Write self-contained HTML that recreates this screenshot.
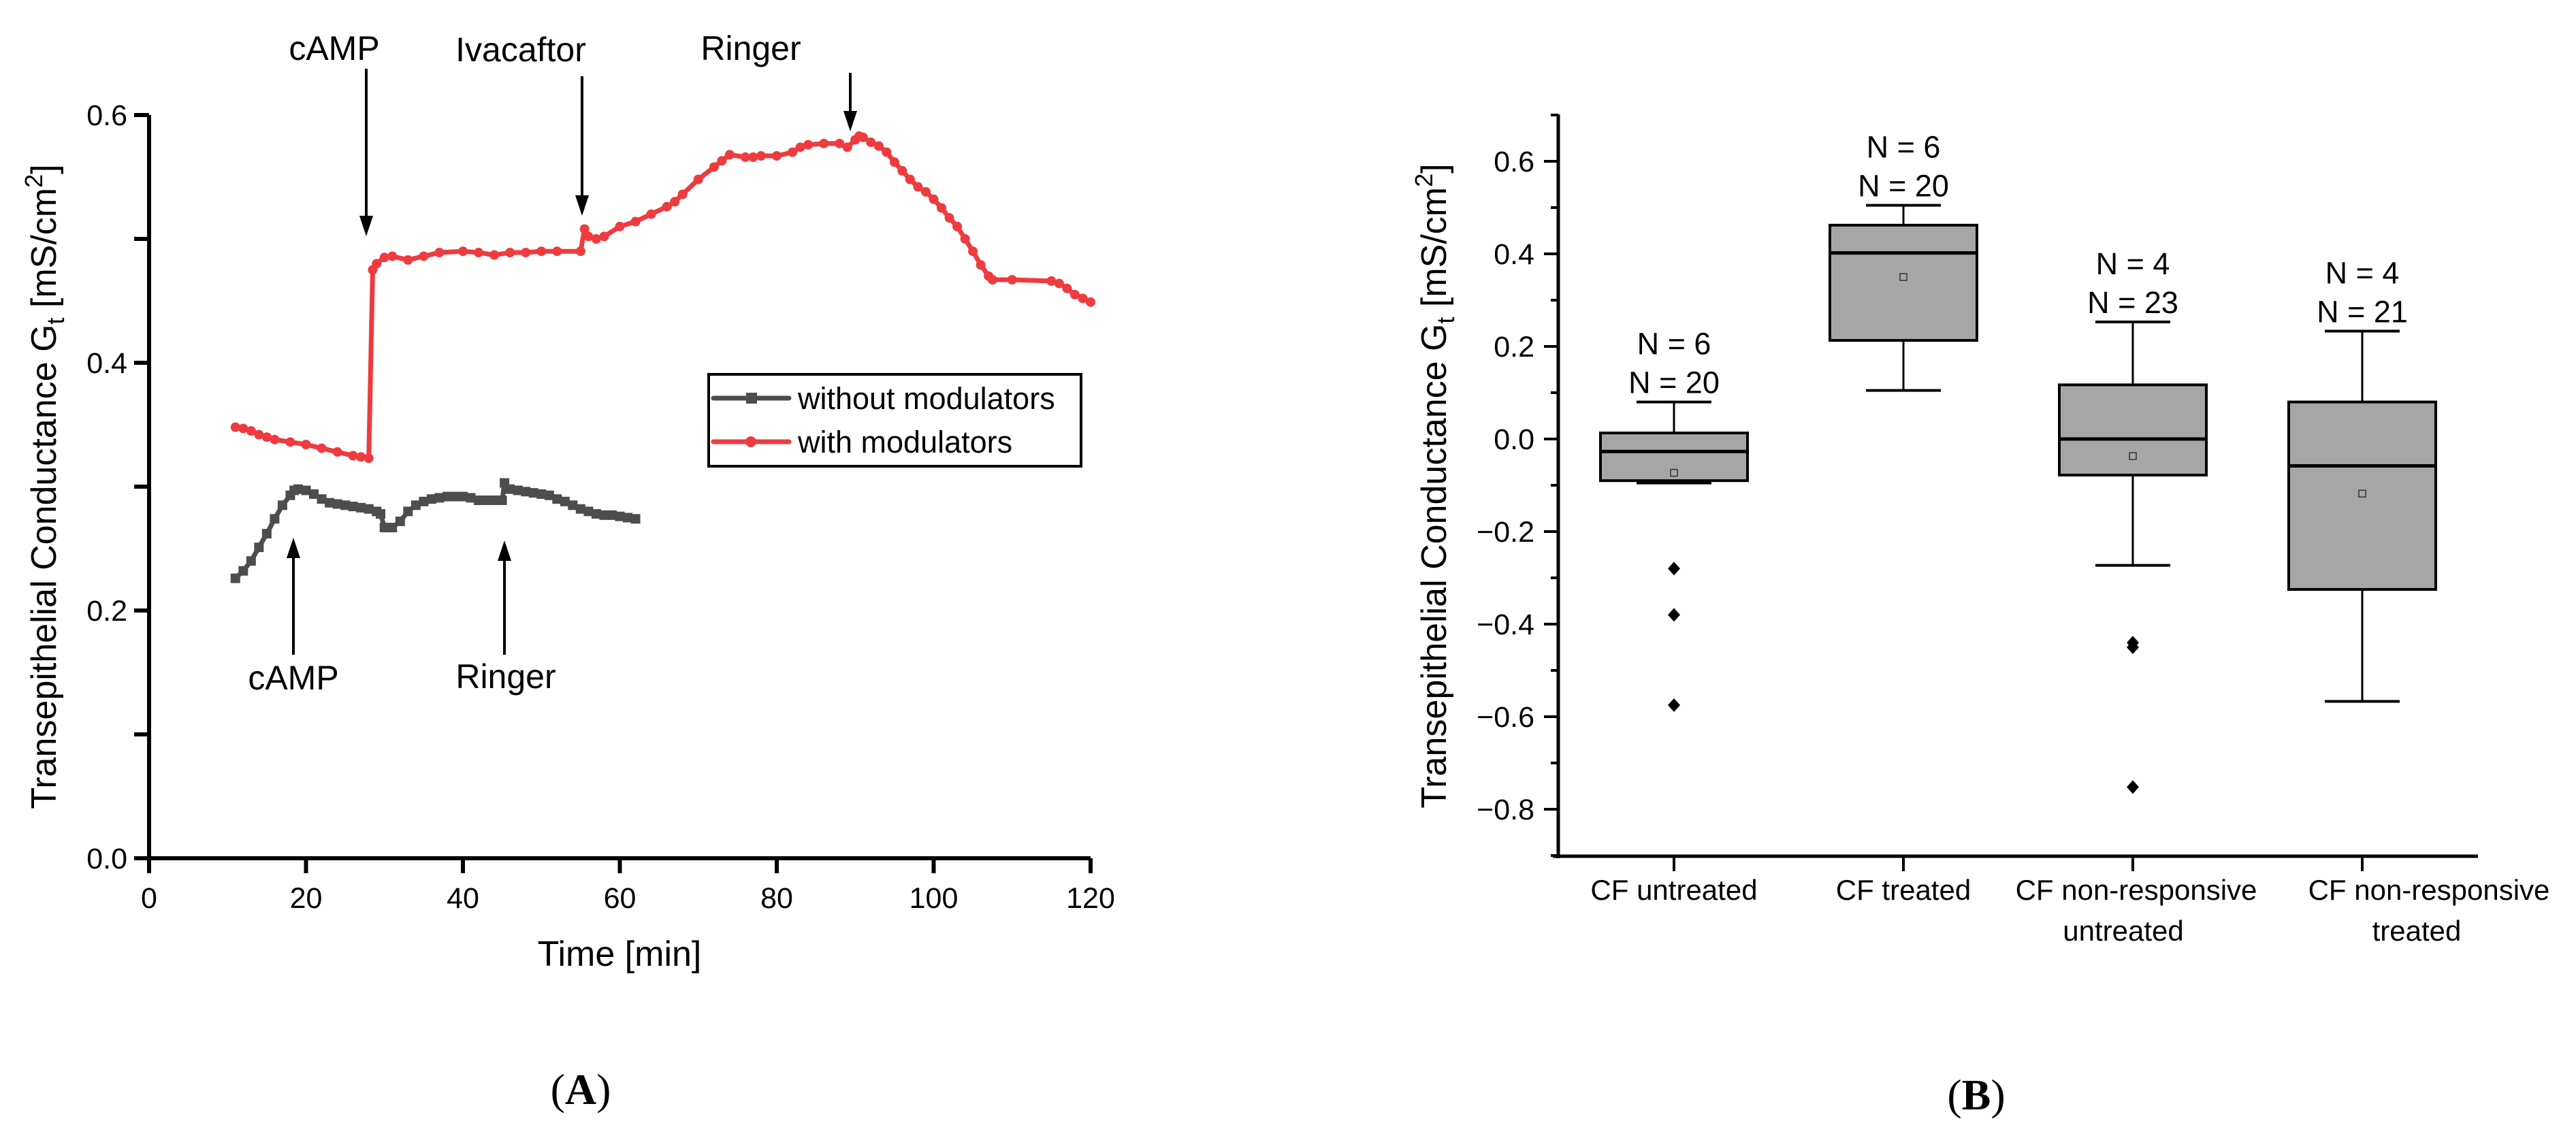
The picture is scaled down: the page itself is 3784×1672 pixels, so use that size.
<!DOCTYPE html>
<html><head><meta charset="utf-8"><style>
html,body{margin:0;padding:0;background:#fff;}
svg{display:block;font-family:"Liberation Sans",Arial,sans-serif;}
</style></head><body>
<svg id="fig" width="3784" height="1672" viewBox="0 0 3784 1672" xmlns="http://www.w3.org/2000/svg">
<g id="A"></g>
<g id="B"></g>
</svg>
<script>
// ---- Panel A data ----
const grayX = [11,12,13,14,15,16,17,18,18.5,19,20,21,22,23,24,25,26,27,28,29,29.5,30,31,32,33,34,35,36,37,38,39,40,41,42,43,44,45,45.3,46,47,48,49,50,51,52,53,54,55,56,57,58,59,60,61,62];
const grayY = [0.226,0.232,0.24,0.251,0.262,0.274,0.285,0.293,0.297,0.298,0.297,0.294,0.29,0.287,0.286,0.285,0.284,0.283,0.282,0.28,0.278,0.267,0.267,0.272,0.28,0.285,0.288,0.29,0.291,0.292,0.292,0.292,0.291,0.289,0.289,0.289,0.289,0.303,0.298,0.297,0.296,0.295,0.294,0.293,0.29,0.288,0.285,0.282,0.28,0.278,0.277,0.277,0.276,0.275,0.274];
const redX = [11,12,13,14,15,16,18,20,22,24,26,27,28,28.5,29,30,31,33,35,37,40,42,44,46,48,50,52,55,55.5,56,57,58,60,62,64,66,67,68,70,72,73,74,76,77,78,80,82,83,84,86,88,89,90,90.5,91,92,93,94,95,96,97,98,99,100,101,102,103,104,105,106,107,107.5,110,115,116,117,118,119,120];
const redY = [0.348,0.347,0.345,0.342,0.34,0.338,0.336,0.334,0.331,0.328,0.325,0.324,0.323,0.475,0.48,0.485,0.486,0.483,0.486,0.489,0.49,0.489,0.487,0.489,0.489,0.49,0.49,0.49,0.508,0.502,0.50,0.502,0.51,0.514,0.52,0.526,0.53,0.536,0.548,0.558,0.563,0.568,0.566,0.566,0.567,0.567,0.57,0.574,0.576,0.577,0.577,0.574,0.58,0.583,0.582,0.578,0.575,0.57,0.562,0.555,0.548,0.542,0.538,0.532,0.525,0.517,0.51,0.5,0.49,0.479,0.47,0.467,0.467,0.466,0.464,0.46,0.455,0.452,0.449];
const xTicksA = [0,20,40,60,80,100,120];
const yTicksA = [0.0,0.2,0.4,0.6];
// ---- Panel B data ----
const cats = [["CF untreated"],["CF treated"],["CF non-responsive","untreated"],["CF non-responsive","treated"]];
const whiskHi = [0.08,0.505,0.253,0.233];
const boxHi = [0.013,0.462,0.117,0.08];
const medians = [-0.027,0.402,0.0,-0.058];
const boxLo = [-0.09,0.213,-0.078,-0.325];
const whiskLo = [-0.095,0.105,-0.273,-0.567];
const means = [-0.073,0.35,-0.037,-0.118];
const outliers = [[-0.28,-0.38,-0.575],[],[-0.44,-0.45,-0.752],[]];
const nTop = ["N = 6","N = 6","N = 4","N = 4"];
const nBot = ["N = 20","N = 20","N = 23","N = 21"];
const yTicksB = [-0.8,-0.6,-0.4,-0.2,0.0,0.2,0.4,0.6];

const NS="http://www.w3.org/2000/svg";
function mk(parent,tag,attrs,text){const e=document.createElementNS(NS,tag);for(const k in attrs)e.setAttribute(k,attrs[k]);if(text!==undefined)e.textContent=text;parent.appendChild(e);return e;}

// ---------- Panel A ----------
const A=document.getElementById('A');
const ax=v=>219+(v/120)*(1602-219);
const ay=v=>1261-(v/0.6)*(1261-169);
let e;
e=mk(A,'line',{x1:ax(0),y1:ay(0),x2:ax(120),y2:ay(0),stroke:'#000','stroke-width':6});

e=mk(A,'line',{x1:ax(0),y1:ay(0)+3,x2:ax(0),y2:ay(0.6),stroke:'#000','stroke-width':6});

xTicksA.forEach(t=>{
  e=mk(A,'line',{x1:ax(t),y1:ay(0),x2:ax(t),y2:ay(0)+22,stroke:'#000','stroke-width':6});
  
  e=mk(A,'text',{x:ax(t),y:ay(0)+73,'font-size':43,'text-anchor':'middle'},String(t));
  
});
[0,0.1,0.2,0.3,0.4,0.5,0.6].forEach(t=>{
  e=mk(A,'line',{x1:ax(0)-22,y1:ay(t),x2:ax(0),y2:ay(t),stroke:'#000','stroke-width':6});
  
});
yTicksA.forEach(t=>{
  e=mk(A,'text',{x:ax(0)-32,y:ay(t)+15,'font-size':43,'text-anchor':'end'},t.toFixed(1));
  
});
e=mk(A,'text',{x:910,y:1419,'font-size':52,'text-anchor':'middle'},'Time [min]');

e=mk(A,'text',{transform:'translate(82,715) rotate(-90)','font-size':52,'text-anchor':'middle'});

e.innerHTML='Transepithelial Conductance G<tspan font-size="36" dy="12">t</tspan><tspan dy="-12"> [mS/cm</tspan><tspan font-size="36" dy="-20">2</tspan><tspan dy="20">]</tspan>';

function series(xs,ys,col,name,sq){
  const pts=xs.map((x,i)=>ax(x)+','+ay(ys[i])).join(' ');
  let l=mk(A,'polyline',{points:pts,fill:'none',stroke:col,'stroke-width':7,'stroke-linejoin':'round'});
  
  xs.forEach((x,i)=>{
    let m;
    if(sq) m=mk(A,'rect',{x:ax(x)-7,y:ay(ys[i])-7,width:14,height:14,fill:col});
    else m=mk(A,'circle',{cx:ax(x),cy:ay(ys[i]),r:7,fill:col});
    
  });
}
series(grayX,grayY,'#4d4d4d','without-modulators',true);
series(redX,redY,'#ee3b3f','with-modulators',false);

// legend
e=mk(A,'rect',{x:1041,y:550,width:547,height:135,fill:'#fff',stroke:'#000','stroke-width':4});

[['#4d4d4d','without modulators',585,true],['#ee3b3f','with modulators',649,false]].forEach(([c,t,y,sq])=>{
  let g=mk(A,'g',{});
  
  mk(g,'line',{x1:1048,y1:y,x2:1159,y2:y,stroke:c,'stroke-width':7,'stroke-linecap':'round'});
  if(sq) mk(g,'rect',{x:1096,y:y-8,width:16,height:16,fill:c}); else mk(g,'circle',{cx:1103,cy:y,r:8,fill:c});
  mk(g,'text',{x:1172,y:y+16,'font-size':45},t);
});

// annotations
function arrow(x,y1,y2,name){
  let g=mk(A,'g',{});
  
  const dir=y2>y1?1:-1;
  mk(g,'line',{x1:x,y1:y1,x2:x,y2:y2-dir*24,stroke:'#000','stroke-width':4});
  mk(g,'polygon',{points:`${x-10},${y2-dir*30} ${x+10},${y2-dir*30} ${x},${y2}`,fill:'#000'});
}
[['cAMP',491,88],['Ivacaftor',765,90],['Ringer',1103,88],['cAMP',431,1013],['Ringer',743,1011]].forEach(([t,x,y])=>{
  e=mk(A,'text',{x:x,y:y,'font-size':50,'text-anchor':'middle'},t);
  
});
arrow(538,101,347,'arrow-camp-red');
arrow(855,112,317,'arrow-ivacaftor');
arrow(1249,107,193,'arrow-ringer-red');
arrow(431,962,790,'arrow-camp-gray');
arrow(741,962,794,'arrow-ringer-gray');

e=mk(A,'text',{x:853,y:1622,'font-size':64,'text-anchor':'middle','font-family':'Liberation Serif, serif'});

e.innerHTML='(<tspan font-weight="bold">A</tspan>)';

// ---------- Panel B ----------
const B=document.getElementById('B');
const bx=i=>2459+i*337;
const by=v=>645-(v/0.2)*136;
e=mk(B,'line',{x1:2281,y1:1258,x2:3640,y2:1258,stroke:'#000','stroke-width':5});

e=mk(B,'line',{x1:2289,y1:1261,x2:2289,y2:168,stroke:'#000','stroke-width':5});

for(let k=-9;k<=7;k++){
  const v=k*0.1; const major=(k%2===0);
  e=mk(B,'line',{x1:major?2268:2278,y1:by(v),x2:2289,y2:by(v),stroke:'#000','stroke-width':4});
  
}
yTicksB.forEach(t=>{
  const s=(t<0?'\u2212':'')+Math.abs(t).toFixed(1);
  e=mk(B,'text',{x:2254,y:by(t)+15,'font-size':43,'text-anchor':'end'},s);
  
});
e=mk(B,'text',{transform:'translate(2124,714) rotate(-90)','font-size':52,'text-anchor':'middle'});

e.innerHTML='Transepithelial Conductance G<tspan font-size="36" dy="12">t</tspan><tspan dy="-12"> [mS/cm</tspan><tspan font-size="36" dy="-20">2</tspan><tspan dy="20">]</tspan>';

const labelOff=[[0],[0],[5,-14],[98,80]];
cats.forEach((c,i)=>{
  const x=bx(i);
  e=mk(B,'line',{x1:x,y1:1258,x2:x,y2:1280,stroke:'#000','stroke-width':4});
  
  const g=mk(B,'g',{});
  
  mk(g,'line',{x1:x,y1:by(whiskHi[i]),x2:x,y2:by(boxHi[i]),stroke:'#000','stroke-width':3});
  mk(g,'line',{x1:x,y1:by(boxLo[i]),x2:x,y2:by(whiskLo[i]),stroke:'#000','stroke-width':3});
  mk(g,'line',{x1:x-55,y1:by(whiskHi[i]),x2:x+55,y2:by(whiskHi[i]),stroke:'#000','stroke-width':4});
  mk(g,'line',{x1:x-55,y1:by(whiskLo[i]),x2:x+55,y2:by(whiskLo[i]),stroke:'#000','stroke-width':4});
  mk(g,'rect',{x:x-108,y:by(boxHi[i]),width:216,height:by(boxLo[i])-by(boxHi[i]),fill:'#a6a6a6',stroke:'#000','stroke-width':4});
  mk(g,'line',{x1:x-108,y1:by(medians[i]),x2:x+108,y2:by(medians[i]),stroke:'#000','stroke-width':5});
  mk(g,'rect',{x:x-5,y:by(means[i])-5,width:10,height:10,fill:'none',stroke:'#333','stroke-width':1.5});
  outliers[i].forEach(o=>{
    const p=mk(B,'polygon',{points:`${x},${by(o)-10} ${x+9},${by(o)} ${x},${by(o)+10} ${x-9},${by(o)}`,fill:'#000'});
    
  });
  const nt=[by(whiskHi[i])-70,by(whiskHi[i])-13];
  e=mk(B,'text',{x:x,y:nt[0],'font-size':45,'text-anchor':'middle'},nTop[i]);
  
  e=mk(B,'text',{x:x,y:nt[1],'font-size':45,'text-anchor':'middle'},nBot[i]);
  
  c.forEach((line,j)=>{
    e=mk(B,'text',{x:x+labelOff[i][j],y:1322+j*60,'font-size':42,'text-anchor':'middle'},line);
    
  });
});
e=mk(B,'text',{x:2903,y:1630,'font-size':64,'text-anchor':'middle','font-family':'Liberation Serif, serif'});

e.innerHTML='(<tspan font-weight="bold">B</tspan>)';
</script>
</body></html>
